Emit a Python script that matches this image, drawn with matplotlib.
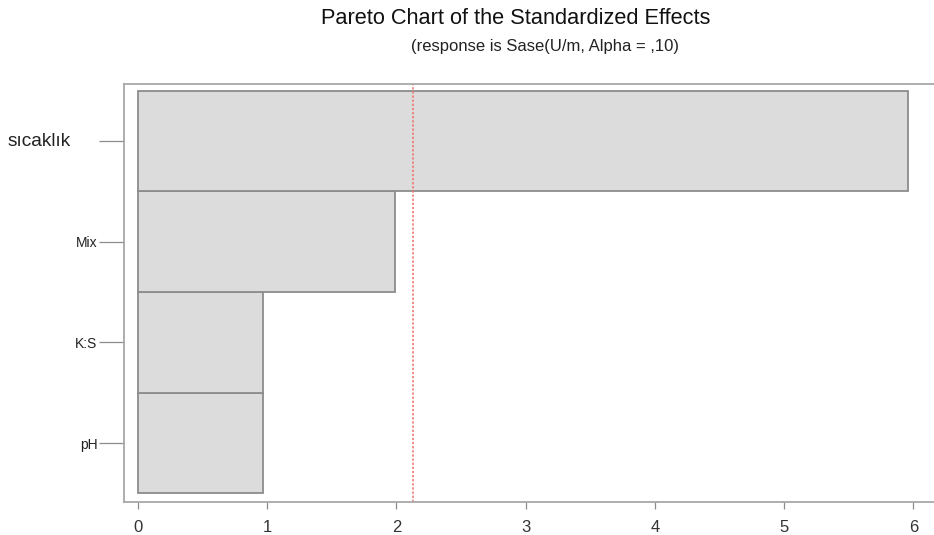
import matplotlib.pyplot as plt

plt.rcParams['font.family'] = ['Liberation Sans', 'DejaVu Sans']

# dati
fattori = ["pH", "K:S", "Mix", "sıcaklık"]
effetti = [0.97, 0.97, 1.99, 5.96]
soglia = 2.13
tick_x = [0, 1, 2, 3, 4, 5, 6]

fig = plt.figure(figsize=(9.34, 5.35), dpi=100)
ax = fig.add_axes([124 / 934, 33 / 535, 1 - 124 / 934, 418 / 535])

pos = list(range(len(fattori)))
ax.barh(pos, effetti, height=1.0, color="#dcdcdc", edgecolor="#8c8c8c", linewidth=1.3)
ax.axvline(soglia, color="#f07068", linestyle=(0, (1.5, 1.2)), linewidth=1.1)

ax.set_xlim(-0.108, 6.16)
ax.set_ylim(-0.586, 3.566)

ax.set_xticks(tick_x)
ax.set_xticklabels([str(t) for t in tick_x], fontsize=12, color="#333333")
ax.set_yticks(pos)
ax.set_yticklabels(["pH", "K:S", "Mix", ""], fontsize=10, color="#222222")
ax.tick_params(axis="y", length=18, width=0.9, color="#8c8c8c", pad=1)
ax.tick_params(axis="x", length=5, width=0.9, color="#8c8c8c", pad=8)

for s in ["left", "bottom", "top"]:
    ax.spines[s].set_color("#a8a8a8")
    ax.spines[s].set_linewidth(1.3)
ax.spines["right"].set_visible(False)

# etichetta più grande a sinistra
fig.text(8 / 934, 1 - 141 / 535, "sıcaklık", fontsize=13.8, color="#222222",
         ha="left", va="center")

fig.text(516 / 934, 1 - 19 / 535, "Pareto Chart of the Standardized Effects",
         fontsize=15.7, ha="center", va="center", color="#111111")
fig.text(545 / 934, 1 - 46 / 535, "(response is Sase(U/m, Alpha = ,10)",
         fontsize=12, ha="center", va="center", color="#222222")

fig.savefig("out.png", dpi=100)
